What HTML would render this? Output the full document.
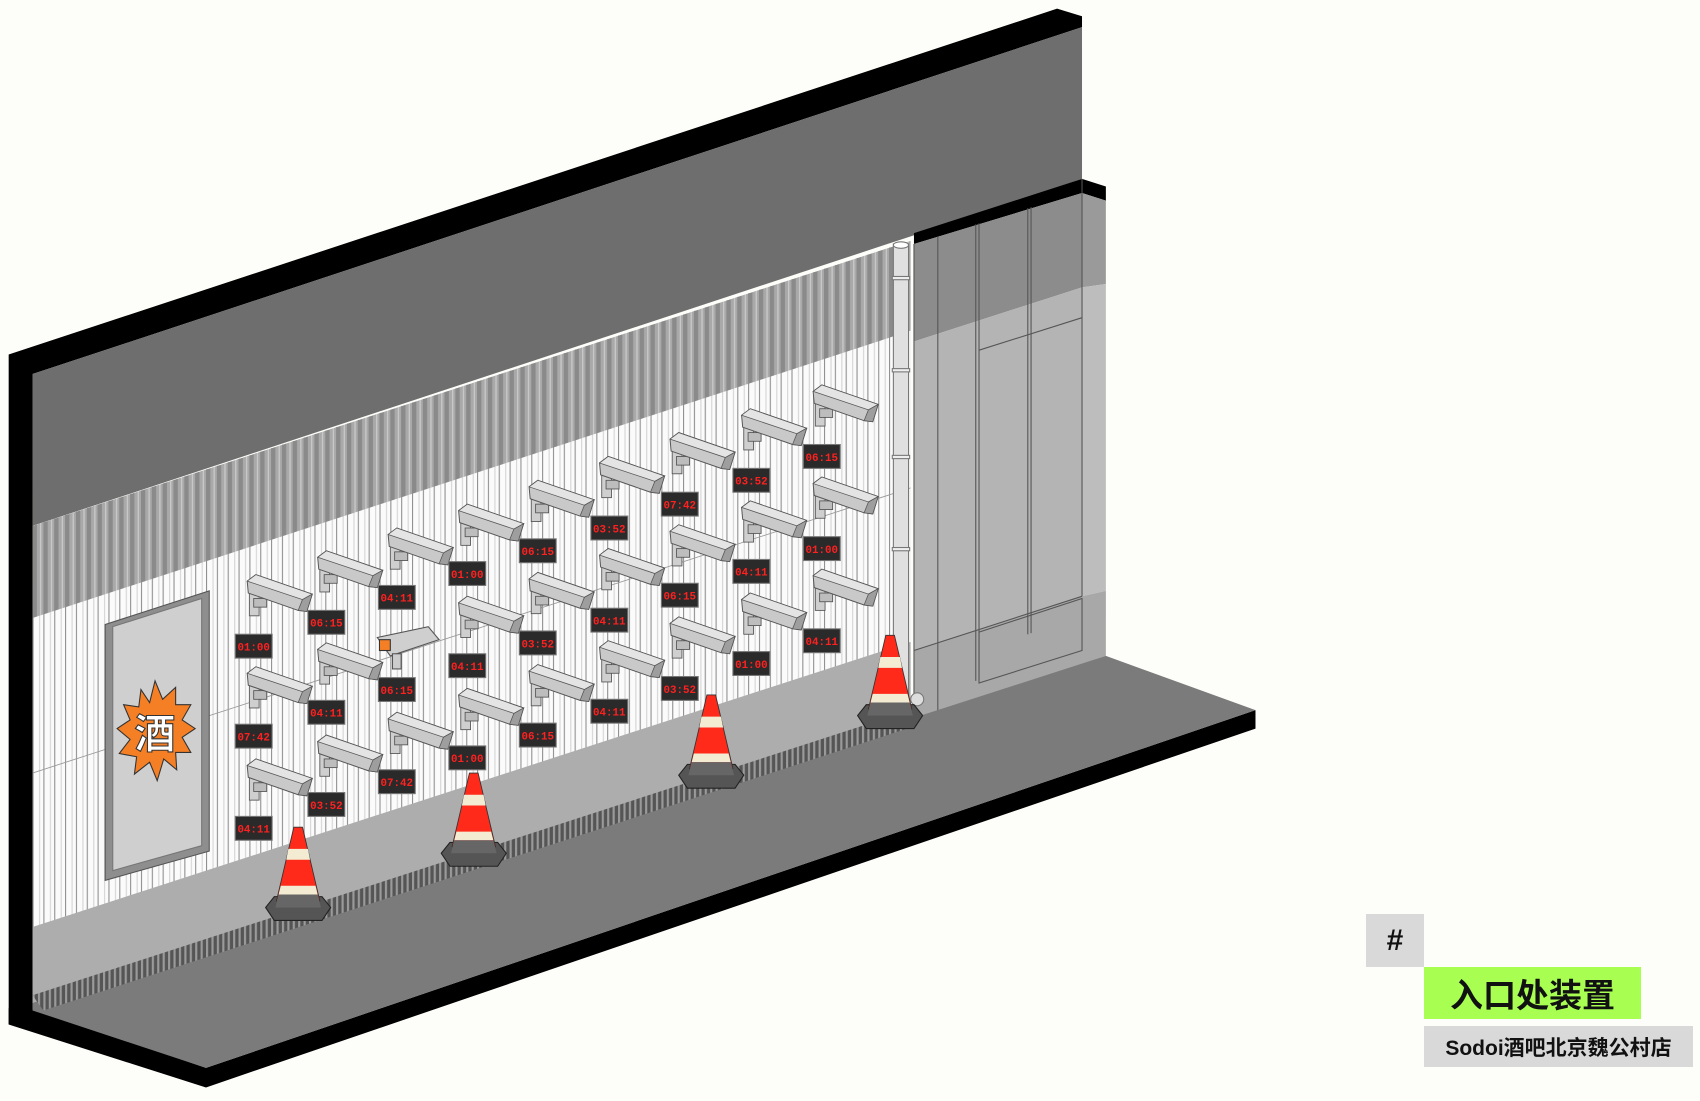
<!DOCTYPE html>
<html><head><meta charset="utf-8">
<style>
html,body{margin:0;padding:0;background:#fdfdf9;}
body{width:1700px;height:1101px;position:relative;overflow:hidden;font-family:"Liberation Sans","Noto Sans CJK SC",sans-serif;}
svg{position:absolute;left:0;top:0;}
.lbl{position:absolute;font-weight:bold;color:#111;display:flex;align-items:center;justify-content:center;}
</style></head><body>
<svg width="1700" height="1101" viewBox="0 0 1568 1015.5" xmlns="http://www.w3.org/2000/svg">
<defs>
<pattern id="corrD" width="10" height="20" patternUnits="userSpaceOnUse">
<rect width="10" height="20" fill="#a9a9a9"/><rect x="0" width="4" height="20" fill="#8a8a8a"/><rect x="7" width="1" height="20" fill="#d0d0d0"/>
</pattern>
<pattern id="corrW" width="10" height="20" patternUnits="userSpaceOnUse">
<rect width="10" height="20" fill="#fbfbfb"/><rect x="0" width="1" height="20" fill="#8f8f8f"/><rect x="6" width="1" height="20" fill="#d4d4d4"/>
</pattern>
<pattern id="grate" width="5" height="10" patternUnits="userSpaceOnUse">
<rect width="5" height="10" fill="#555"/><rect width="2" height="10" fill="#9a9a9a"/>
</pattern>
<clipPath id="wall"><polygon points="30,485 840,222 840,665 30,925"/></clipPath>
<g id="cam">
<rect x="4" y="16" width="9" height="22" fill="#cfcfcf" stroke="#555" stroke-width="0.8"/>
<rect x="8" y="22" width="12" height="8" fill="#bdbdbd" stroke="#555" stroke-width="0.8"/>
<polygon points="2,6 10,0 62,18 57,34 49,33 3,17" fill="#c9c9c9" stroke="#555" stroke-width="0.9"/>
<polygon points="2,6 10,0 62,18 53,23" fill="#e4e4e4" stroke="#555" stroke-width="0.7"/>
<polygon points="53,23 62,18 57,34 49,33" fill="#9e9e9e" stroke="#555" stroke-width="0.7"/>
</g>
<g id="cone">
<polygon points="-30,-8 -22,-18 22,-18 30,-8 22,4 -22,4" fill="#555" stroke="#222"/>
<polygon points="-4,-82 4,-82 20,-14 -20,-14" fill="#ff2a1a" stroke="#333" stroke-width="0.8"/>
<polygon points="-9,-62 9,-62 11,-52 -11,-52" fill="#f3ecd2"/>
<polygon points="-16,-28 16,-28 18,-20 -18,-20" fill="#f3ecd2"/>
<polygon points="-18,-20 18,-20 21,-8 -21,-8" fill="#666"/>
</g>
</defs>

<!-- black top & left edge -->
<polygon points="8,327 975,8 998,15 998,25 30,345 30,930 8,945" fill="#000"/>
<!-- upper dark wall -->
<polygon points="30,345 998,25 998,165 840,218 30,485" fill="#6e6e6e"/>

<!-- corrugated wall -->
<g clip-path="url(#wall)">
<rect x="30" y="200" width="815" height="740" fill="url(#corrW)"/>
<polygon points="30,485 840,222 840,305 30,570" fill="url(#corrD)"/>
<polygon points="30,855 840,592 840,670 30,930" fill="#adadad"/>
<line x1="30" y1="713" x2="840" y2="450" stroke="#999" stroke-width="0.8"/>
</g>

<!-- door -->
<polygon points="97,576 193,545 193,785 97,812" fill="#8e8e8e" stroke="#555"/>
<polygon points="104,578 186,552 186,780 104,803" fill="#cfcfcf" stroke="#777"/>
<polygon points="143,628 150,645 162,634 162,650 176,650 168,664 180,672 168,680 176,694 162,694 163,710 151,700 145,720 138,703 124,714 126,698 110,695 120,682 108,672 120,664 114,650 128,652 130,636 138,648" fill="#f57f25" stroke="#333" stroke-width="1"/>
<text x="143" y="690" font-family="Liberation Sans,'Noto Sans CJK SC',sans-serif" font-weight="bold" font-size="38" fill="#fff" stroke="#333" stroke-width="1" text-anchor="middle">酒</text>

<!-- column -->
<polygon points="843,215 843,225 998,178 1020,185 1020,172 998,165" fill="#000"/>
<polygon points="843,225 998,178 998,265 843,315" fill="#8c8c8c"/>
<polygon points="998,178 1020,185 1020,262 998,265" fill="#9a9a9a"/>
<polygon points="843,315 998,265 998,550 843,600" fill="#b4b4b4"/>
<polygon points="998,265 1020,262 1020,545 998,550" fill="#bdbdbd"/>
<polygon points="843,600 998,550 1020,545 1020,605 865,658 843,662" fill="#a8a8a8"/>
<g stroke="#555" stroke-width="1" fill="none">
<line x1="865" y1="218" x2="865" y2="658"/>
<line x1="900" y1="207" x2="900" y2="628"/>
<line x1="903" y1="206" x2="903" y2="627"/>
<line x1="948" y1="192" x2="948" y2="585"/>
<line x1="951" y1="191" x2="951" y2="584"/>
<line x1="998" y1="165" x2="998" y2="550"/>
<line x1="903" y1="323" x2="998" y2="293"/>
<polygon points="903,583 998,552 998,600 903,630"/>
<line x1="843" y1="600" x2="998" y2="550"/>
<line x1="843" y1="225" x2="843" y2="662"/>
</g>

<!-- pipe -->
<rect x="824" y="225" width="14" height="425" fill="#e0e0e0" stroke="#777"/>
<ellipse cx="831" cy="226" rx="7" ry="3" fill="#fff" stroke="#777"/>
<g stroke="#777" fill="#eee"><rect x="823" y="255" width="16" height="3"/><rect x="823" y="340" width="16" height="3"/><rect x="823" y="420" width="16" height="3"/><rect x="823" y="505" width="16" height="3"/></g>
<circle cx="846" cy="645" r="6" fill="#ddd" stroke="#777"/>

<!-- floor -->
<polygon points="8,930 30,930 190,985 1158,655 1158,672 190,1003 8,945" fill="#000"/>
<polygon points="30,925 843,662 1020,605 1158,655 190,985 30,932" fill="#7b7b7b"/>
<polygon points="30,918 840,655 843,670 40,932" fill="url(#grate)"/>

<!-- cameras -->
<g>
<use href="#cam" x="226" y="530"/><use href="#cam" x="226" y="615"/><use href="#cam" x="226" y="700"/>
<use href="#cam" x="291" y="508"/><use href="#cam" x="291" y="593"/><use href="#cam" x="291" y="678"/>
<use href="#cam" x="356" y="487"/><use href="#cam" x="356" y="657"/>
<use href="#cam" x="421" y="465"/><use href="#cam" x="421" y="550"/><use href="#cam" x="421" y="635"/>
<use href="#cam" x="486" y="443"/><use href="#cam" x="486" y="528"/><use href="#cam" x="486" y="613"/>
<use href="#cam" x="551" y="421"/><use href="#cam" x="551" y="506"/><use href="#cam" x="551" y="591"/>
<use href="#cam" x="616" y="399"/><use href="#cam" x="616" y="484"/><use href="#cam" x="616" y="569"/>
<use href="#cam" x="682" y="377"/><use href="#cam" x="682" y="462"/><use href="#cam" x="682" y="547"/>
<use href="#cam" x="748" y="355"/><use href="#cam" x="748" y="440"/><use href="#cam" x="748" y="525"/>
<polygon points="348,588 395,578 405,590 360,605" fill="#cfcfcf" stroke="#555"/>
<rect x="350" y="590" width="10" height="10" fill="#f57f25" stroke="#333"/>
<rect x="362" y="603" width="8" height="14" fill="#ccc" stroke="#555"/>
</g>
<g fill="#2a2a2a" stroke="#777" stroke-width="1">
<rect x="217" y="585" width="34" height="22"/><rect x="217" y="668" width="34" height="22"/><rect x="217" y="753" width="34" height="22"/>
<rect x="284" y="563" width="34" height="22"/><rect x="284" y="646" width="34" height="22"/><rect x="284" y="731" width="34" height="22"/>
<rect x="349" y="540" width="34" height="22"/><rect x="349" y="625" width="34" height="22"/><rect x="349" y="710" width="34" height="22"/>
<rect x="414" y="518" width="34" height="22"/><rect x="414" y="603" width="34" height="22"/><rect x="414" y="688" width="34" height="22"/>
<rect x="479" y="497" width="34" height="22"/><rect x="479" y="582" width="34" height="22"/><rect x="479" y="667" width="34" height="22"/>
<rect x="545" y="476" width="34" height="22"/><rect x="545" y="561" width="34" height="22"/><rect x="545" y="645" width="34" height="22"/>
<rect x="610" y="454" width="34" height="22"/><rect x="610" y="538" width="34" height="22"/><rect x="610" y="624" width="34" height="22"/>
<rect x="676" y="432" width="34" height="22"/><rect x="676" y="516" width="34" height="22"/><rect x="676" y="601" width="34" height="22"/>
<rect x="741" y="410" width="34" height="22"/><rect x="741" y="495" width="34" height="22"/><rect x="741" y="580" width="34" height="22"/>
</g>
<g font-family="Liberation Mono,monospace" font-size="10" fill="#ff2020" font-weight="bold" text-anchor="middle">
<text x="234" y="600">01:00</text><text x="234" y="683">07:42</text><text x="234" y="768">04:11</text>
<text x="301" y="578">06:15</text><text x="301" y="661">04:11</text><text x="301" y="746">03:52</text>
<text x="366" y="555">04:11</text><text x="366" y="640">06:15</text><text x="366" y="725">07:42</text>
<text x="431" y="533">01:00</text><text x="431" y="618">04:11</text><text x="431" y="703">01:00</text>
<text x="496" y="512">06:15</text><text x="496" y="597">03:52</text><text x="496" y="682">06:15</text>
<text x="562" y="491">03:52</text><text x="562" y="576">04:11</text><text x="562" y="660">04:11</text>
<text x="627" y="469">07:42</text><text x="627" y="553">06:15</text><text x="627" y="639">03:52</text>
<text x="693" y="447">03:52</text><text x="693" y="531">04:11</text><text x="693" y="616">01:00</text>
<text x="758" y="425">06:15</text><text x="758" y="510">01:00</text><text x="758" y="595">04:11</text>
</g>

<!-- cones -->
<use href="#cone" x="275" y="845"/>
<use href="#cone" x="437" y="795"/>
<use href="#cone" x="656" y="723"/>
<use href="#cone" x="821" y="668"/>
</svg>

<div class="lbl" style="left:1366px;top:914px;width:58px;height:53px;background:#d9d9d9;font-size:30px;font-family:'Liberation Sans',sans-serif;">#</div>
<div class="lbl" style="left:1424px;top:967px;width:217px;height:52px;background:#a8ff52;font-size:33px;font-family:'Liberation Sans','Noto Sans CJK SC',sans-serif;">入口处装置</div>
<div class="lbl" style="left:1424px;top:1026px;width:269px;height:41px;background:#d9d9d9;font-size:21px;font-family:'Liberation Sans','Noto Sans CJK SC',sans-serif;">Sodoi酒吧北京魏公村店</div>
</body></html>
